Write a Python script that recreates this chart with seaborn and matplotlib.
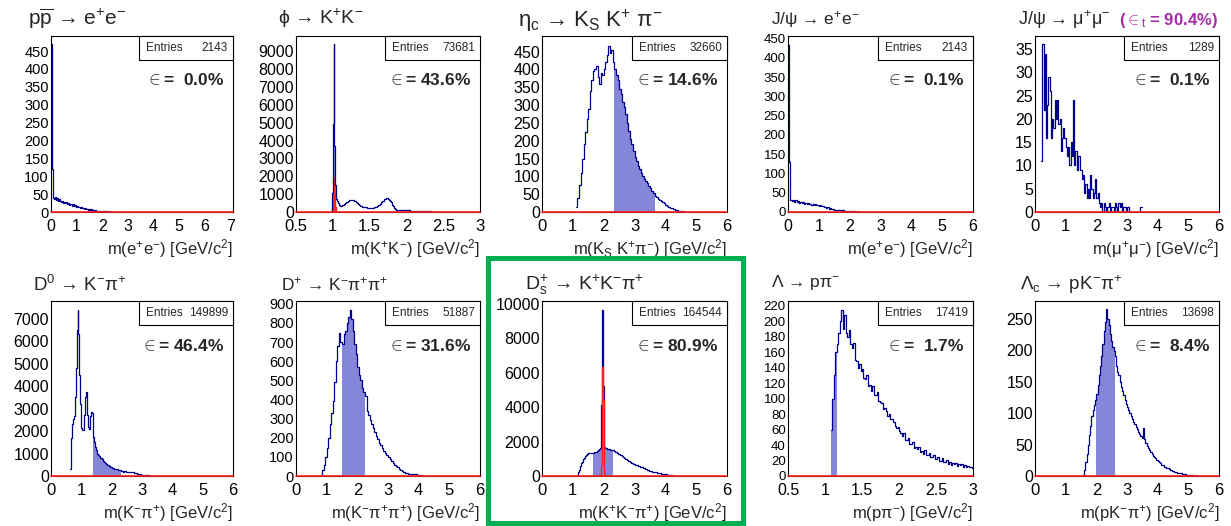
import numpy as np
import pandas as pd
import matplotlib
matplotlib.use("Agg")
import matplotlib.pyplot as plt
import seaborn as sns
from matplotlib.ticker import MultipleLocator, AutoMinorLocator, FuncFormatter
from matplotlib.patches import Rectangle

sns.set_theme(style="white")
plt.rcParams['font.family'] = ['Liberation Sans', 'DejaVu Sans']
plt.rcParams['mathtext.fontset'] = 'custom'
plt.rcParams['mathtext.rm'] = 'Liberation Sans'
plt.rcParams['mathtext.it'] = 'Liberation Sans:italic'
plt.rcParams['mathtext.bf'] = 'Liberation Sans:bold'

# ---------------- data (bin start, bin width, bin contents) ----------------
pp_ee_lo, pp_ee_w = 0.0, 0.04
pp_ee_counts = [470, 120, 38, 36, 41, 33, 38, 31, 35, 30, 28, 32, 26, 29, 24, 27, 22, 25, 20, 23,
                18, 21, 17, 19, 15, 17, 13, 15, 11, 13, 10, 12, 8, 10, 7, 9, 6, 8, 5, 7,
                4, 6, 4, 5, 3, 4, 3, 4, 2, 3, 2, 3, 2, 2, 1, 2, 1, 2, 1, 1,
                0, 1, 1, 0, 1, 0, 1, 0, 0, 1, 0, 0, 1]

phi_lo, phi_w = 0.98, 0.01
phi_counts = [0, 1050, 4900, 9400, 3700, 1500, 850, 700, 600, 500, 420, 370,
              340, 335, 345, 370, 400, 440, 480, 520, 555, 585, 610, 630, 645, 655, 660, 662, 660, 655,
              645, 625, 600, 570, 535, 495, 455, 415, 380, 350, 325, 305,
              290, 280, 272, 265, 260, 255, 250, 247, 245, 243, 242, 240, 240, 242, 245, 250, 258, 268,
              280, 295, 315, 340, 370, 405, 445, 490, 540, 590, 640, 680, 715, 740, 760, 770, 765, 750,
              720, 680, 620, 550, 470, 390, 310, 245, 190, 155, 130, 115, 108, 104,
              100, 97, 99, 94, 95, 91, 92, 89, 90, 86, 88, 84, 85, 82, 84, 80, 82, 79, 80, 77,
              79, 76, 77, 74, 76, 73, 74, 72, 73, 70, 72, 69, 70, 67, 69, 66, 67, 65, 66, 63, 64,
              40, 28, 27, 27, 26, 26, 25, 25, 25, 24, 24, 23, 23, 23, 22, 22, 22, 21, 21, 21,
              20, 20, 20, 19, 19, 19, 18, 18, 18, 18, 17, 17, 17, 17, 16, 16, 16, 16, 15, 15,
              15, 15, 14, 14, 14, 14, 13, 13, 12]
phi_true_lo = 0.98
phi_true = [0, 300, 1100, 1800, 1000, 300, 0]

etac_lo, etac_w = 1.10, 0.05
etac_counts = [15, 40, 75, 110, 150, 190, 225, 260, 290, 340, 370, 395, 400, 410, 380, 360, 390, 385,
               400, 420, 440, 465, 445, 455, 420, 400, 385, 370, 345, 330, 310, 295, 275, 250, 228,
               205, 190, 172, 155, 142, 130, 120, 110, 100, 92, 86, 80, 74, 67, 60, 52, 46, 41, 36,
               33, 31, 28, 24, 20, 17, 14, 12, 10, 8, 6, 5, 4, 3, 2, 2, 1, 1, 1]

jpsi_ee_lo, jpsi_ee_w = 0.0, 0.04
jpsi_ee_counts = [433, 130, 32, 29, 31, 27, 30, 26, 28, 24, 27, 23, 25, 22, 24, 21, 23, 20, 22, 19,
                  21, 18, 20, 17, 19, 16, 18, 15, 16, 13, 14, 11, 12, 9, 10, 7, 8, 6, 6, 5,
                  5, 4, 4, 3, 4, 3, 3, 2, 3, 2, 2, 2, 1, 2, 1, 1, 2, 1, 0, 1,
                  1, 0, 1, 0, 0, 1, 0, 0, 1, 0, 0, 0, 1]

jpsi_mm_lo, jpsi_mm_w = 0.20, 0.04
jpsi_mm_counts = [11, 36, 22, 34, 16, 23, 29, 26, 16, 20, 18, 24, 20, 24, 19, 20, 13, 16, 18, 16,
                  14, 12, 14, 10, 15, 12, 24, 10, 13, 9, 12, 12, 9, 7, 8, 4, 6, 3, 5, 3,
                  8, 5, 3, 4, 7, 3, 4, 2, 1, 2, 0, 2, 1, 0, 1, 2, 0, 1, 1, 0,
                  2, 1, 0, 2, 1, 2, 0, 1, 1, 0, 1, 1, 0, 0, 0, 0, 0, 0, 0, 0, 0, 1]

d0_lo, d0_w = 0.625, 0.025
d0_counts = [300, 900, 1700, 2300, 2550, 2650, 3000, 3500, 4800, 6500, 7400, 6300, 4500, 3200, 2500,
             2150, 2050, 2050, 2150, 2700, 3500, 3750, 3400, 2700, 2200, 2100, 2300, 2650, 2850, 2800,
             2200, 1750, 1500, 1300, 1150, 1050, 1000, 950, 900, 860, 820, 780, 740, 700, 660, 620,
             590, 560, 530, 500, 480, 450, 430, 410, 390, 370, 355, 340, 330, 320, 310, 300, 290,
             285, 280, 275, 270, 240, 215, 205, 200, 205, 210, 205, 200, 198, 196, 192, 188, 184,
             180, 175, 168, 160, 150, 140, 130, 120, 110, 100, 92, 85, 78, 70, 64, 58, 52, 47, 42,
             38, 34, 30, 27, 24, 21, 18, 16, 14, 12, 10, 8, 7, 6, 5, 4, 3, 2, 1]

dp_lo, dp_w = 0.80, 0.05
dp_counts = [5, 30, 60, 100, 145, 200, 270, 330, 390, 490, 600, 680, 750, 700, 690, 740, 760, 800,
             830, 870, 820, 760, 690, 640, 570, 530, 500, 460, 440, 420, 340, 320, 295, 270, 250,
             230, 210, 195, 175, 160, 145, 130, 120, 108, 98, 88, 78, 68, 60, 52, 45, 38, 32, 27,
             22, 18, 15, 12, 10, 9, 8, 10, 8, 6, 5, 3, 2, 2, 1]

ds_lo, ds_w = 1.14, 0.02
ds_counts = [50, 150, 260, 370, 480, 580, 670, 750, 830, 900, 970, 1030, 1090, 1140, 1190, 1230,
             1260, 1290, 1310, 1330, 1340, 1350, 1350, 1355, 1350, 1340,
             1350, 1360, 1370, 1390, 1410, 1420, 1440, 1460, 1480, 1520, 1580, 1600, 1800, 4100,
             6400, 9600, 5200, 2100, 1700, 1650, 1620, 1600, 1590, 1580, 1570, 1560, 1550, 1540,
             1530, 1520, 1510, 1500, 1480,
             1465, 1450, 1430, 1410, 1392, 1368, 1345, 1318, 1292, 1265,
             1242, 1214, 1192, 1163, 1141, 1112, 1092, 1063, 1042, 1013, 992, 963, 944, 913, 893,
             864, 842, 815, 792, 764, 746, 724, 706, 688, 680,
             662, 651, 633, 621, 603, 592, 574, 562, 544, 532, 514, 503, 484, 472, 454, 443, 424,
             412, 394, 382, 364, 352, 331, 312, 290,
             282, 271, 265, 254, 249, 238, 233, 222, 217, 206, 201, 190, 185, 174, 169, 158, 153,
             142, 137, 126, 121, 112, 109, 102, 100,
             92, 86, 77, 72, 63, 58, 49, 45, 37, 33, 26, 23, 17, 15, 10, 8, 5, 4, 2, 1]
ds_true_lo = 1.88
ds_true = [0, 100, 600, 4300, 6300, 4400, 1500, 200, 0]

lam_lo, lam_w = 1.08, 0.02
lam_counts = [60, 100, 130, 160, 170, 185, 200, 215, 190, 208, 185, 180, 188, 170, 165, 172, 150,
              148, 140, 145, 135, 138, 126, 125, 131, 116, 118, 110, 116, 104, 104, 108, 97, 96, 94,
              86, 88, 84, 78, 80, 74, 74, 70, 65, 62, 63, 58, 55, 52, 56, 46, 46, 49, 41, 41, 44,
              36, 37, 35, 38, 31, 32, 28, 33, 27, 27, 30, 24, 24, 27, 22, 22, 25, 20, 20, 23, 18, 18,
              21, 16, 18, 14, 17, 15, 17, 13, 16, 14, 15, 12, 14, 11, 13, 12, 11, 10]

lamc_lo, lamc_w = 1.56, 0.04
lamc_counts = [2, 10, 22, 35, 50, 65, 80, 95, 105, 112, 120, 130, 145, 160, 175, 190, 210, 230, 245,
               265, 250, 240, 225, 215, 205, 198, 190, 175, 165, 160, 150, 142, 135, 128, 120, 115,
               110, 105, 100, 95, 90, 86, 82, 78, 74, 70, 67, 64, 60, 76, 58, 52, 48, 45, 42, 38, 35,
               32, 30, 28, 26, 24, 22, 20, 18, 17, 15, 14, 13, 12, 11, 10, 9, 8, 7, 6, 6, 5, 5, 4,
               4, 3, 3, 3, 2, 2, 2, 1, 1, 1, 1, 0, 1]

entries = [2143, 73681, 32660, 2143, 1289, 149899, 51887, 164544, 17419, 13698]
efficiency = ["0.0", "43.6", "14.6", "0.1", "0.1", "46.4", "31.6", "80.9", "1.7", "8.4"]
windows = [None, (1.00, 1.04), (2.35, 3.65), None, None, (1.40, 2.30), (1.50, 2.25),
           (1.64, 2.30), (1.08, 1.16), (2.00, 2.60)]

titles = [r"p$\overline{\rm p}$ → e$^{+}$e$^{-}$",
          r"ϕ → K$^{+}$K$^{-}$",
          r"η$_{\rm c}$ → K$_{\rm S}$ K$^{+}$ π$^{-}$",
          r"J/ψ → e$^{+}$e$^{-}$",
          r"J/ψ → μ$^{+}$μ$^{-}$",
          r"D$^{0}$ → K$^{-}$π$^{+}$",
          r"D$^{+}$ → K$^{-}$π$^{+}$π$^{+}$",
          r"D$_{\rm s}^{+}$ → K$^{+}$K$^{-}$π$^{+}$",
          r"Λ → pπ$^{-}$",
          r"Λ$_{\rm c}$ → pK$^{-}$π$^{+}$"]
xlabels = [r"m(e$^{+}$e$^{-}$) [GeV/c$^{2}$]",
           r"m(K$^{+}$K$^{-}$) [GeV/c$^{2}$]",
           r"m(K$_{\rm S}$ K$^{+}$π$^{-}$) [GeV/c$^{2}$]",
           r"m(e$^{+}$e$^{-}$) [GeV/c$^{2}$]",
           r"m(μ$^{+}$μ$^{-}$) [GeV/c$^{2}$]",
           r"m(K$^{-}$π$^{+}$) [GeV/c$^{2}$]",
           r"m(K$^{-}$π$^{+}$π$^{+}$) [GeV/c$^{2}$]",
           r"m(K$^{+}$K$^{-}$π$^{+}$) [GeV/c$^{2}$]",
           r"m(pπ$^{-}$) [GeV/c$^{2}$]",
           r"m(pK$^{-}$π$^{+}$) [GeV/c$^{2}$]"]

hists = [(pp_ee_lo, pp_ee_w, pp_ee_counts), (phi_lo, phi_w, phi_counts),
         (etac_lo, etac_w, etac_counts), (jpsi_ee_lo, jpsi_ee_w, jpsi_ee_counts),
         (jpsi_mm_lo, jpsi_mm_w, jpsi_mm_counts), (d0_lo, d0_w, d0_counts),
         (dp_lo, dp_w, dp_counts), (ds_lo, ds_w, ds_counts),
         (lam_lo, lam_w, lam_counts), (lamc_lo, lamc_w, lamc_counts)]
true_hists = {1: (phi_true_lo, phi_w, phi_true, True), 7: (ds_true_lo, ds_w, ds_true, False)}

# ---------------- styling / layout ----------------
xlims = [(0, 7.1), (0.5, 3), (0, 6), (0, 6), (0, 6), (0, 6), (0, 6), (0, 6), (0.5, 3), (0, 6)]
ylims = [492, 9850, 494, 457, 37.8, 7780, 915, 10150, 226, 278]
xmaj = [1, 0.5, 1, 1, 1, 1, 1, 1, 0.5, 1]
ymaj = [50, 1000, 50, 50, 5, 1000, 100, 2000, 20, 50]
ytick_fs = [10.5, 11.5, 11.5, 9.5, 11.5, 11.5, 10.5, 11.5, 9.5, 11.5]
xtick_fs = [11.5, 12, 12, 11.5, 12, 12, 12, 12, 11.5, 12]
title_fs = [15, 14, 16, 12.5, 13, 13.5, 12.5, 14, 12.5, 13.5]
title_px = [(28, 19), (278, 18), (518, 21), (771, 19), (1018, 20),
            (33, 285), (281, 284), (525, 285), (771, 283), (1020, 285)]

LINE = '#00008f'
FILL = '#8686d8'
RED = '#ff2020'

W, H = 1231, 526
lefts = [51, 296, 542, 788, 1035]
rights = [233, 480, 727, 973, 1219]
row_top = [36, 301]
row_bot = [212, 476]


def as_frame(lo, w, counts):
    """Rebuild the entries of a binned histogram (one row per entry at its bin centre)."""
    counts = np.asarray(counts, int)
    edges = lo + w * np.arange(len(counts) + 1)
    centers = edges[:-1] + w / 2
    return pd.DataFrame({'m': np.repeat(centers, counts)}), edges, centers


fig = plt.figure(figsize=(W / 100, H / 100), dpi=100)
fig.patch.set_facecolor('white')

fmt = FuncFormatter(lambda v, p: f"{v:g}")

for i in range(10):
    r, c = divmod(i, 5)
    axw = rights[c] - lefts[c]
    axh = row_bot[r] - row_top[r]
    ax = fig.add_axes([lefts[c] / W, 1 - row_bot[r] / H, axw / W, axh / H])
    lo, w, cnt = hists[i]
    df, edges, centers = as_frame(lo, w, cnt)
    if windows[i] is not None:
        a, b = windows[i]
        idx = np.where((centers > a) & (centers < b))[0]
        sub_edges = edges[idx[0]: idx[-1] + 2]
        sub = df[(df['m'] > sub_edges[0]) & (df['m'] < sub_edges[-1])]
        sns.histplot(data=sub, x='m', bins=list(sub_edges), element='step',
                     fill=True, color=FILL, alpha=1.0, linewidth=0, ax=ax)
    sns.histplot(data=df, x='m', bins=list(edges), element='step', fill=False,
                 color=LINE, linewidth=0.9, ax=ax)
    if i in true_hists:
        tlo, tw, tc, tfill = true_hists[i]
        tdf, tedges, _ = as_frame(tlo, tw, tc)
        sns.histplot(data=tdf, x='m', bins=list(tedges), element='step', fill=tfill,
                     color=RED, alpha=0.9 if tfill else 1.0, linewidth=1.0, ax=ax)
    ax.axhline(0, color=RED, lw=1.2, zorder=3, clip_on=False)

    ax.set_xlim(*xlims[i])
    ax.set_ylim(0, ylims[i])
    ax.xaxis.set_major_locator(MultipleLocator(xmaj[i]))
    ax.yaxis.set_major_locator(MultipleLocator(ymaj[i]))
    ax.xaxis.set_minor_locator(AutoMinorLocator(5))
    ax.yaxis.set_minor_locator(AutoMinorLocator(5))
    ax.xaxis.set_major_formatter(fmt)
    ax.yaxis.set_major_formatter(fmt)
    ax.tick_params(axis='both', which='both', direction='in', top=False, right=False,
                   colors='black')
    ax.tick_params(axis='y', labelsize=ytick_fs[i], pad=1.5)
    ax.tick_params(axis='x', labelsize=xtick_fs[i], pad=5)
    ax.tick_params(which='major', length=5, width=0.7)
    ax.tick_params(which='minor', length=2.5, width=0.6)
    for s in ax.spines.values():
        s.set_visible(True)
        s.set_color('black')
        s.set_linewidth(0.8)
    ax.set_ylabel('')
    ax.set_xlabel(xlabels[i], fontsize=12, ha='right', va='center')
    ax.xaxis.set_label_coords(1.0, -37 / axh)

    # stats box
    bh = 24 / axh
    ax.add_patch(Rectangle((0.485, 1 - bh), 0.515, bh, transform=ax.transAxes,
                           facecolor='white', edgecolor='black', lw=0.8, zorder=6, clip_on=False))
    ax.text(0.485 + 7 / axw, 1 - bh / 2, "Entries", transform=ax.transAxes, fontsize=8.5,
            ha='left', va='center', zorder=7)
    ax.text(1 - 5 / axw, 1 - bh / 2, str(entries[i]), transform=ax.transAxes, fontsize=8.5,
            ha='right', va='center', zorder=7)
    # efficiency
    e = efficiency[i]
    etxt = r"$\in$= " + (" " if len(e) < 4 else "") + e + "%"
    ax.text(1 - 9 / axw, 1 - (44 if r == 0 else 45) / axh, etxt, transform=ax.transAxes,
            fontsize=12.5, fontweight='bold', ha='right', va='center', zorder=7)

    tx, ty = title_px[i]
    fig.text(tx / W, 1 - ty / H, titles[i], fontsize=title_fs[i], ha='left', va='center')

fig.text(1218 / W, 1 - 20 / H, r"($\in_{\rm t}$ = 90.4%)", fontsize=12, fontweight='bold',
         color='#a62aa6', ha='right', va='center')

# green highlight frame around the D_s panel
fig.patches.append(Rectangle((487.5 / W, 1 - 523 / H), (743 - 487.5) / W, (523 - 257.5) / H,
                             transform=fig.transFigure, fill=False, edgecolor='#00b050',
                             lw=3.6, zorder=10))

fig.savefig('out.png', dpi=100, facecolor='white')
